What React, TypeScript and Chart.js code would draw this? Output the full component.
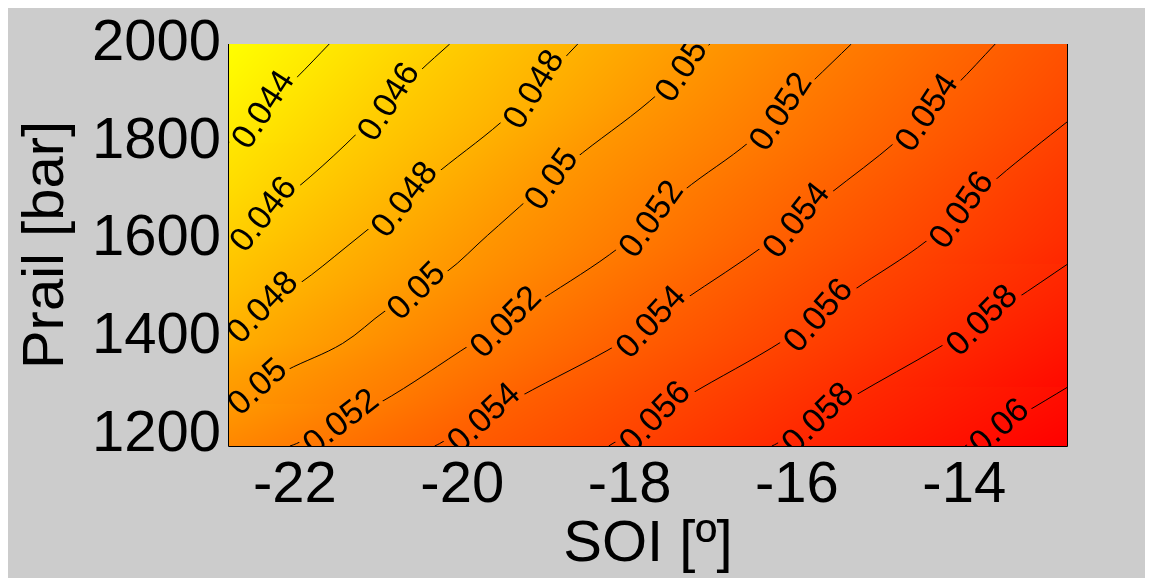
import React, { useEffect, useRef } from "react";
import { Chart, registerables } from "chart.js";

Chart.register(...registerables);

// ---------- data ----------
const soiTicks = [-22, -20, -18, -16, -14];
const prailTicks = [1200, 1400, 1600, 1800, 2000];
const soiMin = -22.8;
const soiMax = -12.76;
const prailMin = 1177;
const prailMax = 2000;

const levels = [0.044, 0.046, 0.048, 0.05, 0.052, 0.054, 0.056, 0.058, 0.06];

// contour vertices: [SOI, Prail]
const line044 = [[-21.59, 2000], [-21.98, 1931], [-22.4, 1862], [-22.8, 1797]];
const line046 = [[-20.15, 2000], [-20.51, 1944], [-21.39, 1795], [-21.97, 1706], [-22.8, 1594]];
const line048 = [[-18.62, 2000], [-19.43, 1856], [-20.27, 1740], [-21.39, 1584], [-21.95, 1509], [-22.8, 1415]];
const line050 = [[-17.04, 2000], [-17.76, 1883], [-18.68, 1761], [-19.7, 1608], [-20.19, 1533], [-20.91, 1455], [-21.43, 1387], [-22.1, 1332], [-22.8, 1264]];
const line052 = [[-15.35, 2000], [-15.81, 1924], [-16.56, 1801], [-17.36, 1699], [-18.12, 1584], [-19.07, 1475], [-19.88, 1387], [-20.99, 1265], [-21.98, 1182], [-22.06, 1177]];
const line054 = [[-13.63, 2000], [-14.09, 1917], [-14.81, 1801], [-15.61, 1693], [-16.36, 1591], [-17.36, 1475], [-18.12, 1387], [-19.31, 1278], [-20.27, 1182], [-20.33, 1177]];
const line056 = [[-12.76, 1842], [-13.18, 1785], [-13.6, 1726], [-14.45, 1597], [-15.33, 1495], [-16.16, 1393], [-17.32, 1278], [-17.88, 1216], [-18.25, 1177]];
const line058 = [[-12.76, 1550], [-13.41, 1475], [-14.29, 1380], [-15.33, 1278], [-16.24, 1182], [-16.3, 1177]];
const line060 = [[-12.76, 1298], [-13.29, 1244], [-13.93, 1183], [-13.99, 1177]];

const contourLines = [line044, line046, line048, line050, line052, line054, line056, line058, line060];

// inline contour labels: [level, SOI, Prail]
const labelSpots = [
  [0.044, -22.34, 1859], [0.046, -20.8, 1868], [0.048, -19.09, 1898], [0.05, -17.34, 1938], [0.052, -16.14, 1852], [0.054, -14.45, 1860],
  [0.046, -22.36, 1648], [0.048, -20.63, 1669], [0.05, -18.83, 1703], [0.052, -17.7, 1634], [0.054, -16.02, 1642], [0.056, -13.99, 1652],
  [0.048, -22.36, 1454], [0.05, -20.52, 1487], [0.052, -19.44, 1420], [0.054, -17.7, 1420], [0.056, -15.7, 1434], [0.058, -13.75, 1424],
  [0.05, -22.41, 1287], [0.052, -21.43, 1220], [0.054, -19.71, 1226], [0.056, -17.67, 1230], [0.058, -15.72, 1226], [0.06, -13.56, 1210],
];

const xTitle = "SOI [º]";
const yTitle = "Prail [bar]";

// ---------- styling ----------
const FONT = '"Liberation Sans", Arial, Helvetica, sans-serif';
const AXIS_FONT_SIZE = 58;
const LABEL_FONT_SIZE = 34;
const LABEL_ANGLE_STRETCH = 1.6;
const CANVAS_W = 1145;
const CANVAS_H = 570;

function buildField(chart: any): HTMLCanvasElement {
  const ca = chart.chartArea;
  const key = `${ca.left},${ca.top},${ca.right},${ca.bottom}`;
  if (chart.$fieldKey === key && chart.$field) return chart.$field;
  const w = Math.round(ca.right - ca.left);
  const h = Math.round(ca.bottom - ca.top);
  const xs = chart.scales.x;
  const ys = chart.scales.y;
  const xv = new Float64Array(w);
  for (let i = 0; i < w; i++) xv[i] = xs.getValueForPixel(ca.left + i + 0.5);
  const z = new Float64Array(w * h);
  let zmin = Infinity;
  let zmax = -Infinity;
  for (let j = 0; j < h; j++) {
    const yv = ys.getValueForPixel(ca.top + j + 0.5);
    const pairs: number[][] = [];
    contourLines.forEach((pts, li) => {
      for (let k = 0; k < pts.length - 1; k++) {
        const [x0, y0] = pts[k];
        const [x1, y1] = pts[k + 1];
        if (y0 !== y1 && (yv - y0) * (yv - y1) <= 0) {
          const t = (yv - y0) / (y1 - y0);
          pairs.push([x0 + t * (x1 - x0), levels[li]]);
          break;
        }
      }
    });
    pairs.sort((a, b) => a[0] - b[0]);
    for (let i = 0; i < w; i++) {
      const x = xv[i];
      let k = 0;
      while (k < pairs.length - 2 && x > pairs[k + 1][0]) k++;
      const a = pairs[k];
      const b = pairs[k + 1];
      const val = a[1] + ((x - a[0]) / (b[0] - a[0])) * (b[1] - a[1]);
      z[j * w + i] = val;
      if (val < zmin) zmin = val;
      if (val > zmax) zmax = val;
    }
  }
  const cv = document.createElement("canvas");
  cv.width = w;
  cv.height = h;
  const c2 = cv.getContext("2d")!;
  const img = c2.createImageData(w, h);
  for (let p = 0; p < w * h; p++) {
    const t = (zmax - z[p]) / (zmax - zmin);
    img.data[p * 4] = 255;
    img.data[p * 4 + 1] = Math.max(0, Math.min(255, Math.round(255 * t)));
    img.data[p * 4 + 2] = 0;
    img.data[p * 4 + 3] = 255;
  }
  c2.putImageData(img, 0, 0);
  chart.$field = cv;
  chart.$fieldKey = key;
  return cv;
}

const contourPlugin = {
  id: "contourField",
  beforeDatasetsDraw(chart: any) {
    const field = buildField(chart);
    chart.ctx.drawImage(field, chart.chartArea.left, chart.chartArea.top);
  },
  afterDatasetsDraw(chart: any) {
    const ctx = chart.ctx as CanvasRenderingContext2D;
    const xs = chart.scales.x;
    const ys = chart.scales.y;
    const ca = chart.chartArea;
    const field = buildField(chart);
    ctx.save();
    ctx.font = `${LABEL_FONT_SIZE}px ${FONT}`;
    for (const [level, sx, sy] of labelSpots) {
      const li = levels.indexOf(level);
      const pts = contourLines[li].map(([x, y]) => [xs.getPixelForValue(x), ys.getPixelForValue(y)]);
      const px = xs.getPixelForValue(sx);
      const py = ys.getPixelForValue(sy);
      let best = Infinity;
      let bx = px, by = py, dx = 1, dy = -1;
      for (let k = 0; k < pts.length - 1; k++) {
        const a = pts[k];
        const b = pts[k + 1];
        const vx = b[0] - a[0];
        const vy = b[1] - a[1];
        const L2 = vx * vx + vy * vy;
        let t = ((px - a[0]) * vx + (py - a[1]) * vy) / L2;
        t = Math.max(0, Math.min(1, t));
        const qx = a[0] + t * vx;
        const qy = a[1] + t * vy;
        const d = (qx - px) ** 2 + (qy - py) ** 2;
        if (d < best) {
          best = d; bx = qx; by = qy; dx = vx; dy = vy;
        }
      }
      if (dx < 0) { dx = -dx; dy = -dy; }
      const ang = Math.atan2(dy * LABEL_ANGLE_STRETCH, dx);
      const text = String(level);
      const tw = ctx.measureText(text).width;
      ctx.save();
      ctx.beginPath();
      ctx.rect(ca.left, ca.top, ca.right - ca.left, ca.bottom - ca.top);
      ctx.clip();
      ctx.translate(bx, by);
      ctx.rotate(ang);
      ctx.beginPath();
      ctx.rect(-tw / 2 - 3, -15, tw + 6, 30);
      ctx.clip();
      ctx.rotate(-ang);
      ctx.translate(-bx, -by);
      ctx.drawImage(field, ca.left, ca.top);
      ctx.translate(bx, by);
      ctx.rotate(ang);
      ctx.fillStyle = "#000";
      ctx.textAlign = "center";
      ctx.textBaseline = "middle";
      ctx.fillText(text, 0, 1);
      ctx.restore();
    }
    ctx.restore();
  },
  afterDraw(chart: any) {
    const ctx = chart.ctx as CanvasRenderingContext2D;
    const { left, right, top, bottom } = chart.chartArea;
    ctx.save();
    ctx.strokeStyle = "#000";
    ctx.lineWidth = 1;
    ctx.beginPath();
    ctx.moveTo(left + 0.5, top);
    ctx.lineTo(left + 0.5, bottom + 0.5);
    ctx.lineTo(right - 0.5, bottom + 0.5);
    ctx.lineTo(right - 0.5, top);
    ctx.stroke();
    ctx.restore();
  },
};

export default function App() {
  const ref = useRef<HTMLCanvasElement | null>(null);
  useEffect(() => {
    if (!ref.current) return;
    const chart = new Chart(ref.current, {
      type: "scatter",
      data: {
        datasets: contourLines.map((pts, i) => ({
          label: String(levels[i]),
          data: pts.map(([x, y]) => ({ x, y })),
          showLine: true,
          borderColor: "#000",
          borderWidth: 1,
          pointRadius: 0,
          pointHoverRadius: 0,
          tension: 0.35,
          fill: false,
        })),
      },
      options: {
        responsive: false,
        animation: false,
        events: [],
        devicePixelRatio: 1,
        layout: { padding: { top: 35, right: 85, left: 0, bottom: 0 } },
        plugins: { legend: { display: false }, tooltip: { enabled: false } },
        scales: {
          x: {
            type: "linear",
            min: soiMin,
            max: soiMax,
            grid: { display: false, drawTicks: false },
            border: { display: false },
            afterBuildTicks: (s: any) => { s.ticks = soiTicks.map((v) => ({ value: v })); },
            afterFit: (s: any) => { s.height = 132; },
            ticks: {
              autoSkip: false,
              maxRotation: 0,
              minRotation: 0,
              padding: 5,
              color: "#000",
              font: { family: FONT, size: AXIS_FONT_SIZE },
              callback: (v: any) => String(v),
            },
            title: {
              display: true,
              text: xTitle,
              color: "#000",
              font: { family: FONT, size: AXIS_FONT_SIZE },
              padding: { top: 4, bottom: -2 },
            },
          },
          y: {
            type: "linear",
            min: prailMin,
            max: prailMax,
            grid: { display: false, drawTicks: false },
            border: { display: false },
            afterBuildTicks: (s: any) => { s.ticks = prailTicks.map((v) => ({ value: v })); },
            afterFit: (s: any) => { s.width = 220; },
            ticks: {
              autoSkip: false,
              padding: 7,
              color: "#000",
              font: { family: FONT, size: AXIS_FONT_SIZE, lineHeight: 1 },
              callback: (v: any) => String(v),
            },
            title: {
              display: true,
              text: yTitle,
              color: "#000",
              font: { family: FONT, size: AXIS_FONT_SIZE },
              padding: { top: 4, bottom: 4 },
            },
          },
        },
      },
      plugins: [contourPlugin],
    } as any);
    return () => chart.destroy();
  }, []);
  return (
    <div>
      <canvas
        ref={ref}
        width={CANVAS_W}
        height={CANVAS_H}
        style={{ display: "block", width: CANVAS_W, height: CANVAS_H, background: "#cccccc" }}
      />
    </div>
  );
}
